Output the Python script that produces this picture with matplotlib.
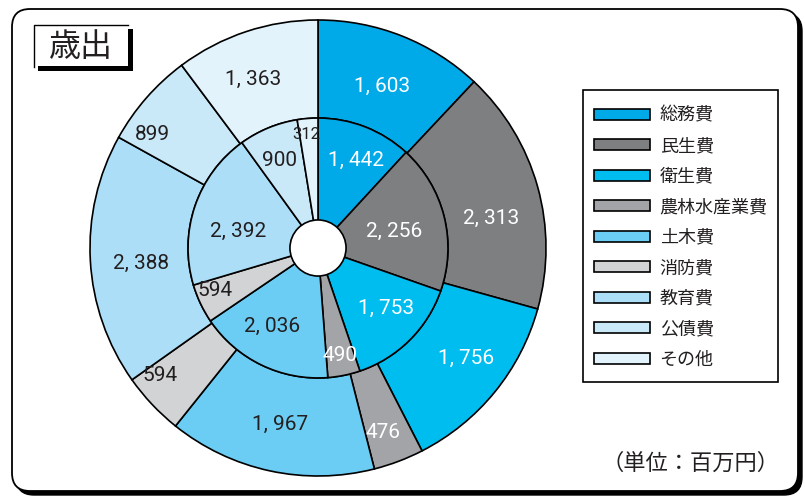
import matplotlib.pyplot as plt
from matplotlib.patches import FancyBboxPatch, Circle, Rectangle
import numpy as np

plt.rcParams['font.family'] = ['Noto Sans CJK JP', 'DejaVu Sans']

# 歳出 (単位：百万円)
categories = ['総務費', '民生費', '衛生費', '農林水産業費', '土木費',
              '消防費', '教育費', '公債費', 'その他']
outer_values = [1603, 2313, 1756, 476, 1967, 594, 2388, 899, 1363]
inner_values = [1442, 2256, 1753, 490, 2036, 594, 2392, 900, 312]
colors = ['#00a9e8', '#7e7f81', '#00bdf0', '#a3a4a7', '#6bcdf4',
          '#d2d3d5', '#acdef7', '#c9e8f8', '#e2f3fc']
white_text = ['総務費', '民生費', '衛生費', '農林水産業費']

fig = plt.figure(figsize=(8.05, 4.96), dpi=100)

# background frame, drawn in pixel units
bg = fig.add_axes([0, 0, 1, 1])
bg.set_xlim(0, 805)
bg.set_ylim(496, 0)
bg.axis('off')
bg.add_patch(FancyBboxPatch((16, 13), 786, 482, boxstyle="round,pad=0,rounding_size=18",
                            facecolor='black', edgecolor='black'))
bg.add_patch(FancyBboxPatch((12, 9), 786, 482, boxstyle="round,pad=0,rounding_size=18",
                            facecolor='white', edgecolor='black', linewidth=1.3))

# title box
bg.add_patch(Rectangle((38, 66), 95, 5, facecolor='black', edgecolor='none'))
bg.add_patch(Rectangle((128, 29), 5, 42, facecolor='black', edgecolor='none'))
bg.plot([128, 34, 34], [25, 25, 67], color='black', linewidth=1.0)
bg.text(81, 47, '歳出', fontsize=23, ha='center', va='center', color='#231f20')
bg.text(690, 463, '（単位：百万円）', fontsize=16, ha='center', va='center', color='#231f20')

# legend frame
bg.add_patch(Rectangle((583, 90), 195, 292, facecolor='white', edgecolor='black', linewidth=1.2))

# double donut
ax = fig.add_axes([90 / 805, 20 / 496, 456 / 805, 456 / 496])
wp = dict(edgecolor='black', linewidth=1.2)
outer, _ = ax.pie(outer_values, radius=1.0, colors=colors, startangle=90,
                  counterclock=False, wedgeprops=dict(width=0.43, **wp))
inner, _ = ax.pie(inner_values, radius=0.57, colors=colors, startangle=90,
                  counterclock=False, wedgeprops=dict(width=0.45, **wp))
ax.add_patch(Circle((0, 0), 0.123, facecolor='white', edgecolor='black', linewidth=1.2))
ax.set_xlim(-1, 1)
ax.set_ylim(-1, 1)
ax.set_aspect('equal')
ax.axis('off')
for w in outer + inner:
    w.set_clip_on(False)


def fmt(v):
    return f'{v:,}'.replace(',', ', ')


# label placement: radius and clockwise angle shift (degrees) per wedge
outer_r = [0.76, 0.77, 0.81, 0.86, 0.79, 0.89, 0.78, 0.88, 0.79]
outer_shift = [0, 6, -2.6, 1.3, 0, 4.3, -1.7, -6.7, -2.6]
inner_r = [0.42, 0.34, 0.40, 0.48, 0.40, 0.49, 0.36, 0.42, 0.50]
inner_shift = [2, 2, -4, 0, 4.4, 3, -7, -1, -1.4]
for wedges, vals, radii, shifts in [(outer, outer_values, outer_r, outer_shift),
                                    (inner, inner_values, inner_r, inner_shift)]:
    for w, v, r, s, cat in zip(wedges, vals, radii, shifts, categories):
        ang = np.deg2rad((w.theta1 + w.theta2) / 2 - s)
        c = 'white' if cat in white_text else '#231f20'
        size = 12 if v < 400 else 15
        ax.text(r * np.cos(ang), r * np.sin(ang), fmt(v), ha='center', va='center',
                fontsize=size, family='Roboto', color=c)

leg = ax.legend(outer, categories, loc='upper left', bbox_to_anchor=(582 / 805, 1 - 95 / 496),
                bbox_transform=fig.transFigure, borderaxespad=0, fontsize=13,
                handlelength=3.1, handleheight=0.56, labelspacing=0.69, handletextpad=0.55,
                borderpad=0.65, frameon=False)
for t in leg.get_texts():
    t.set_color('#231f20')

fig.savefig('out.png', dpi=100)
